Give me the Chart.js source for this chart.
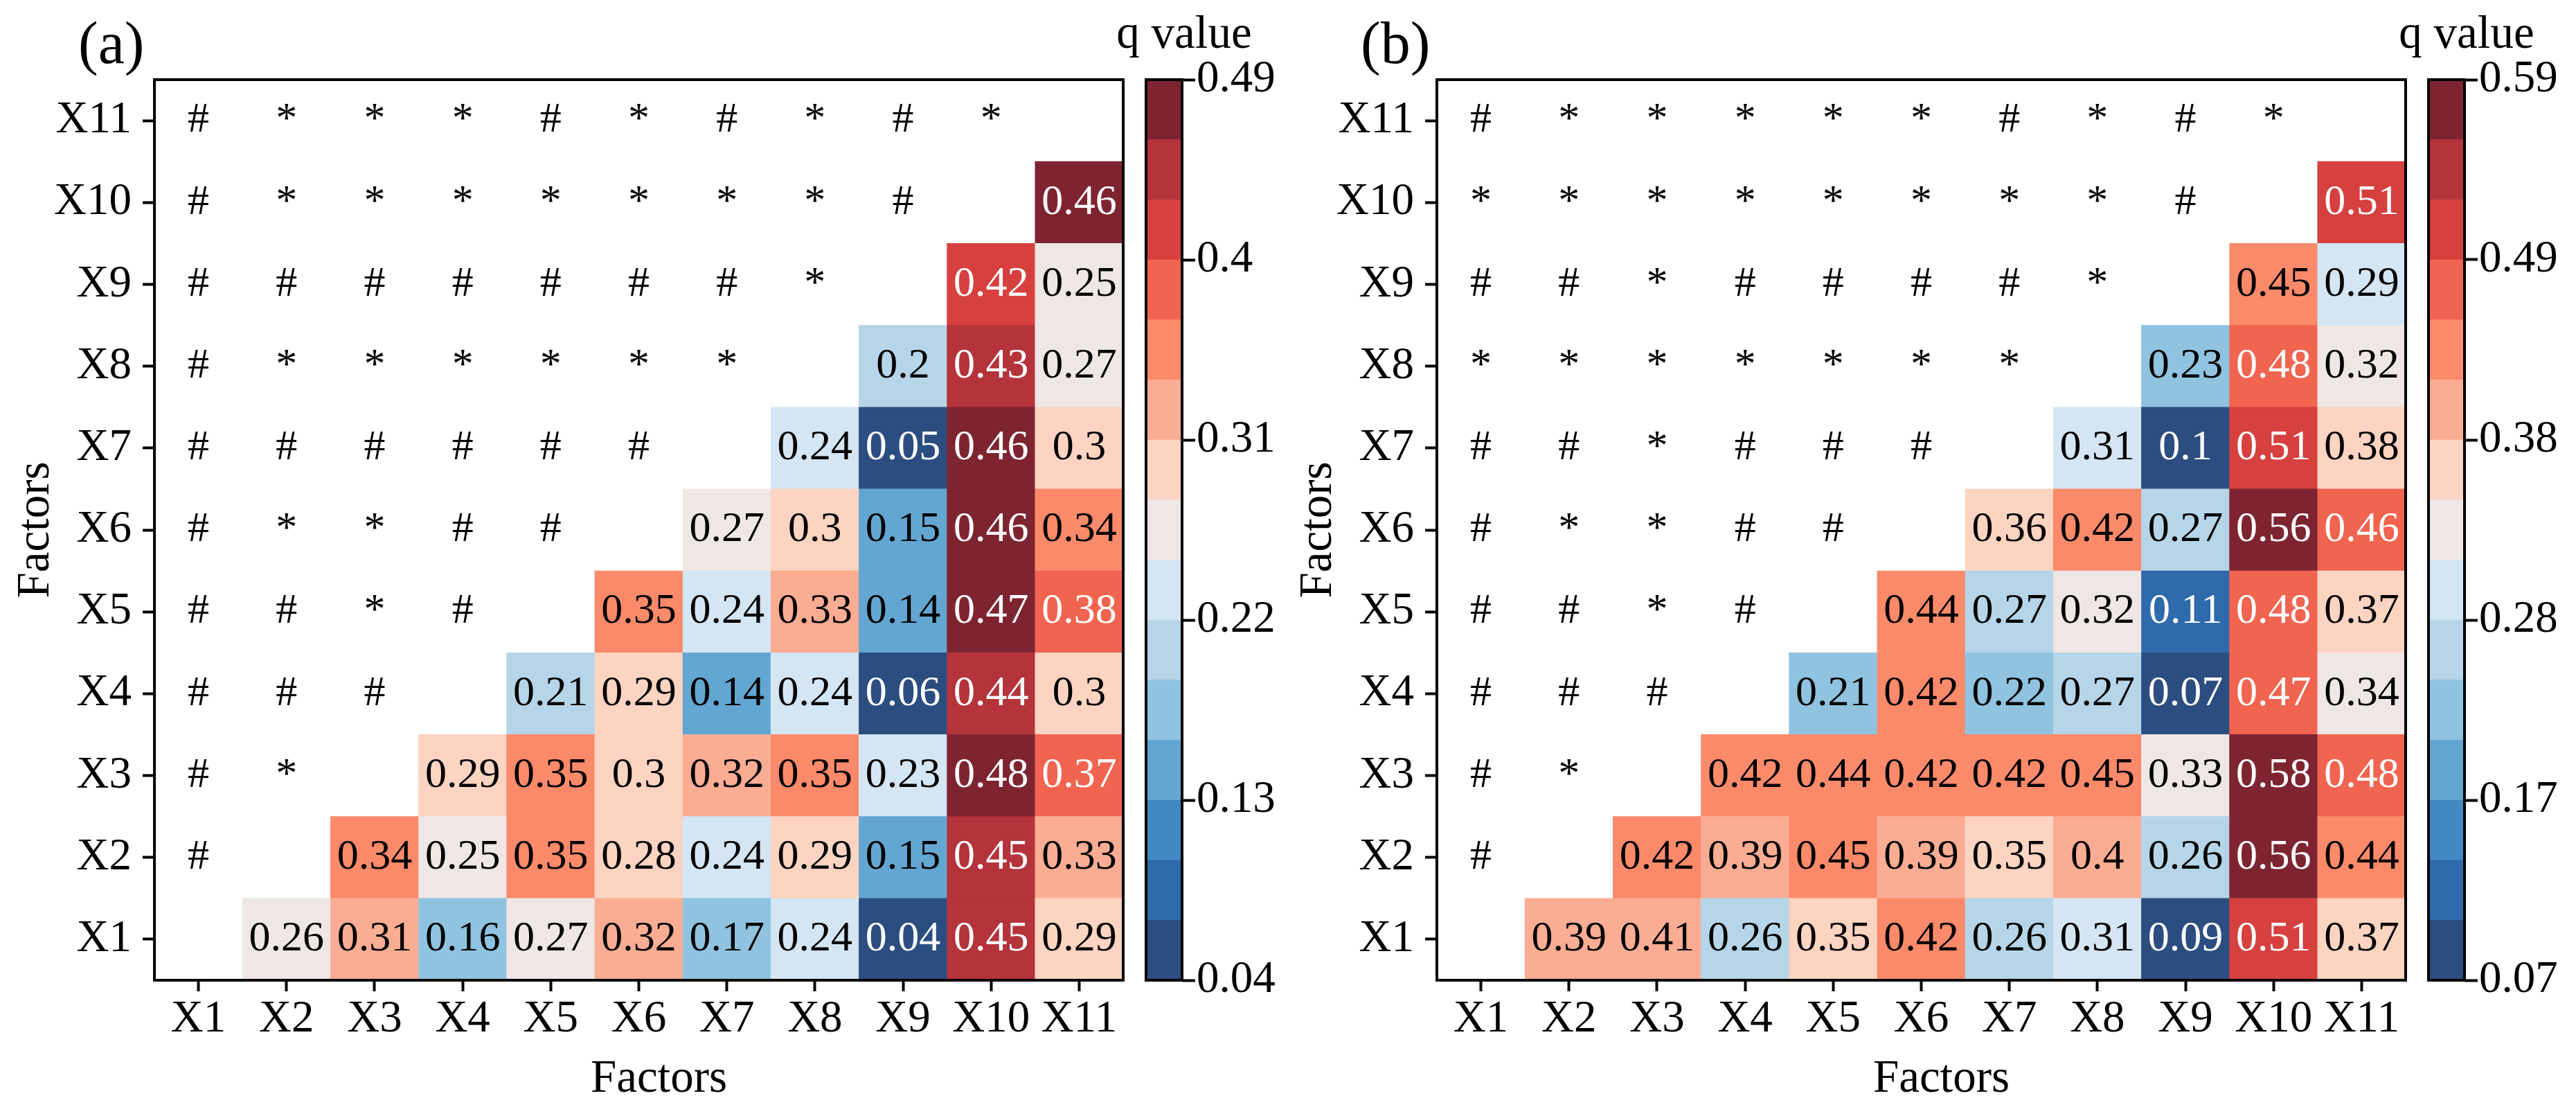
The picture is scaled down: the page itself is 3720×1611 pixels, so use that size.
<!DOCTYPE html>
<html><head><meta charset="utf-8">
<script src="https://cdn.jsdelivr.net/npm/chart.js@4.4.1/dist/chart.umd.min.js"></script>
<style>
html,body{margin:0;padding:0;background:#fff;}
#wrap{position:relative;width:3720px;height:1611px;background:#fff;overflow:hidden;}
.box{position:absolute;top:0;height:1611px;}
</style></head><body>
<div id="wrap">
  <div class="box" style="left:0;width:1650px"><canvas id="hmA"></canvas></div>
  <div class="box" style="left:1560px;width:300px"><canvas id="cbA"></canvas></div>
  <div class="box" style="left:1852px;width:1650px"><canvas id="hmB"></canvas></div>
  <div class="box" style="left:3412px;width:308px"><canvas id="cbB"></canvas></div>
</div>
<script>
// ---------------- DATA ----------------
const factors = ['X1','X2','X3','X4','X5','X6','X7','X8','X9','X10','X11'];

// Panel (a): q values, row Xr lists columns X(r+1)..X11
const valuesA = [
  [0.26,0.31,0.16,0.27,0.32,0.17,0.24,0.04,0.45,0.29],
  [0.34,0.25,0.35,0.28,0.24,0.29,0.15,0.45,0.33],
  [0.29,0.35,0.3,0.32,0.35,0.23,0.48,0.37],
  [0.21,0.29,0.14,0.24,0.06,0.44,0.3],
  [0.35,0.24,0.33,0.14,0.47,0.38],
  [0.27,0.3,0.15,0.46,0.34],
  [0.24,0.05,0.46,0.3],
  [0.2,0.43,0.27],
  [0.42,0.25],
  [0.46],
  []
];
// Panel (a): interaction type symbols, row Xr lists columns X1..X(r-1)
const symbolsA = [
  [],
  ['#'],
  ['#','*'],
  ['#','#','#'],
  ['#','#','*','#'],
  ['#','*','*','#','#'],
  ['#','#','#','#','#','#'],
  ['#','*','*','*','*','*','*'],
  ['#','#','#','#','#','#','#','*'],
  ['#','*','*','*','*','*','*','*','#'],
  ['#','*','*','*','#','*','#','*','#','*']
];
const rangeA = [0.04, 0.49];
const cbTicksA = ['0.04','0.13','0.22','0.31','0.4','0.49'];

// Panel (b)
const valuesB = [
  [0.39,0.41,0.26,0.35,0.42,0.26,0.31,0.09,0.51,0.37],
  [0.42,0.39,0.45,0.39,0.35,0.4,0.26,0.56,0.44],
  [0.42,0.44,0.42,0.42,0.45,0.33,0.58,0.48],
  [0.21,0.42,0.22,0.27,0.07,0.47,0.34],
  [0.44,0.27,0.32,0.11,0.48,0.37],
  [0.36,0.42,0.27,0.56,0.46],
  [0.31,0.1,0.51,0.38],
  [0.23,0.48,0.32],
  [0.45,0.29],
  [0.51],
  []
];
const symbolsB = [
  [],
  ['#'],
  ['#','*'],
  ['#','#','#'],
  ['#','#','*','#'],
  ['#','*','*','#','#'],
  ['#','#','*','#','#','#'],
  ['*','*','*','*','*','*','*'],
  ['#','#','*','#','#','#','#','*'],
  ['*','*','*','*','*','*','*','*','#'],
  ['#','*','*','*','*','*','#','*','#','*']
];
const rangeB = [0.07, 0.59];
const cbTicksB = ['0.07','0.17','0.28','0.38','0.49','0.59'];

// ---------------- STYLE ----------------
const palette = ['#2c4d80','#2f6aad','#4289c4','#64a6d2','#8fc3e0','#b6d5e8','#d4e5f3',
                 '#efe7e5','#fdd4c2','#fbad94','#fb8a6b','#f06450','#d6403f','#b5333b','#7e2431'];
const FAM = '"Liberation Serif", "Times New Roman", serif';
const TICK = 65, CELL = 62, TITLE = 67;
Chart.defaults.font.family = FAM;
Chart.defaults.color = '#000';

function binIndex(v, range){
  const lo = range[0], hi = range[1];
  return Math.max(0, Math.min(14, Math.floor((v - lo) / (hi - lo) * 15 + 1e-9)));
}

const cellText = {
  id: 'cellText',
  afterDatasetsDraw(chart, args, o){
    if (!o || !o.values) return;
    const {ctx} = chart; const x = chart.scales.x, y = chart.scales.y;
    ctx.save();
    ctx.textAlign = 'center'; ctx.textBaseline = 'middle';
    ctx.font = CELL + 'px ' + FAM;
    o.values.forEach((rowVals, r) => {
      rowVals.forEach((v, i) => {
        const c = r + 1 + i;
        const k = binIndex(v, o.range);
        ctx.fillStyle = (k >= 11 || k <= 1) ? '#ffffff' : '#000000';
        ctx.fillText(String(v), x.getPixelForValue(c), y.getPixelForValue(r + 1));
      });
    });
    ctx.fillStyle = '#000';
    o.symbols.forEach((row, r) => {
      row.forEach((s, c) => {
        ctx.fillText(s, x.getPixelForValue(c), y.getPixelForValue(r + 1));
      });
    });
    ctx.restore();
  }
};

const frame = {
  id: 'frame',
  afterDraw(chart, args, o){
    const {ctx, chartArea: a} = chart;
    ctx.save();
    ctx.strokeStyle = '#000'; ctx.lineWidth = o.width || 4;
    ctx.strokeRect(a.left, a.top, a.right - a.left, a.bottom - a.top);
    ctx.fillStyle = '#000';
    if (o.label) {
      ctx.font = '86px ' + FAM;
      ctx.textAlign = 'left'; ctx.textBaseline = 'alphabetic';
      ctx.fillText(o.label, 113, 91);
    }
    if (o.xTitle) {
      ctx.font = TITLE + 'px ' + FAM;
      ctx.textAlign = 'center'; ctx.textBaseline = 'alphabetic';
      ctx.fillText(o.xTitle, (a.left + a.right) / 2 + 29, 1576);
    }
    if (o.title) {
      ctx.font = TITLE + 'px ' + FAM;
      ctx.textAlign = 'center'; ctx.textBaseline = 'alphabetic';
      ctx.fillText(o.title, a.right + 3, 69);
    }
    ctx.restore();
  }
};

function heatmap(id, values, symbols, range, label){
  const datasets = [];
  values.forEach((rowVals, r) => {
    if (!rowVals.length) return;
    datasets.push({
      data: factors.map((f, c) => c > r ? [r + 0.5, r + 1.5] : null),
      backgroundColor: factors.map((f, c) => c > r ? palette[binIndex(rowVals[c - r - 1], range)] : 'rgba(0,0,0,0)'),
      borderWidth: 0, grouped: false, barPercentage: 1, categoryPercentage: 1
    });
  });
  new Chart(document.getElementById(id), {
    type: 'bar',
    data: {labels: factors, datasets},
    plugins: [cellText, frame],
    options: {
      responsive: true, maintainAspectRatio: false, animation: false, devicePixelRatio: 1,
      layout: {padding: {top: 115, right: 28, bottom: 0, left: 0}},
      plugins: {
        legend: {display: false}, tooltip: {enabled: false},
        cellText: {values, symbols, range},
        frame: {width: 4, label, xTitle: 'Factors'}
      },
      scales: {
        x: {
          type: 'category', offset: true,
          grid: {offset: false, drawOnChartArea: false, drawTicks: true, tickLength: 16, tickWidth: 4, tickColor: '#000'},
          border: {display: false},
          ticks: {font: {size: TICK}, color: '#000', padding: 2, maxRotation: 0, autoSkip: false},
          title: {display: false},
          afterFit(s){ s.height = 196; }
        },
        y: {
          type: 'linear', min: 0.5, max: 11.5,
          afterBuildTicks(s){ s.ticks = factors.map((f, i) => ({value: i + 1})); },
          ticks: {callback: (v) => factors[Math.round(v) - 1], font: {size: TICK}, color: '#000', padding: 16, autoSkip: false},
          grid: {drawOnChartArea: false, drawTicks: true, tickLength: 17, tickWidth: 4, tickColor: '#000'},
          border: {display: false},
          title: {display: true, text: 'Factors', font: {size: TITLE}, color: '#000', padding: {top: 12, bottom: 0}},
          afterFit(s){ s.width = 223; }
        }
      }
    }
  });
}

function colorbar(id, range, tickLabels){
  const lo = range[0], hi = range[1], step = (hi - lo) / 15;
  const datasets = palette.map((col, k) => ({
    data: [[lo + k * step, lo + (k + 1) * step]],
    backgroundColor: col, borderWidth: 0, grouped: false, barPercentage: 1, categoryPercentage: 1
  }));
  new Chart(document.getElementById(id), {
    type: 'bar',
    data: {labels: ['q'], datasets},
    plugins: [frame],
    options: {
      responsive: true, maintainAspectRatio: false, animation: false, devicePixelRatio: 1,
      layout: {padding: {top: 115, right: 0, bottom: 196, left: 95}},
      plugins: {legend: {display: false}, tooltip: {enabled: false}, frame: {width: 4, title: 'q value'}},
      scales: {
        x: {type: 'category', display: false, offset: true},
        y: {
          type: 'linear', position: 'right', min: lo, max: hi,
          afterBuildTicks(s){ s.ticks = tickLabels.map((t, i) => ({value: lo + (hi - lo) * i / (tickLabels.length - 1)})); },
          ticks: {callback: (v, i) => tickLabels[i], font: {size: TICK}, color: '#000', padding: 2, autoSkip: false},
          grid: {drawOnChartArea: false, drawTicks: true, tickLength: 19, tickWidth: 4, tickColor: '#000'},
          border: {display: false},
          afterFit(s){ s.width = s.chart.width - 95 - 52; }
        }
      }
    }
  });
}

heatmap('hmA', valuesA, symbolsA, rangeA, '(a)');
colorbar('cbA', rangeA, cbTicksA);
heatmap('hmB', valuesB, symbolsB, rangeB, '(b)');
colorbar('cbB', rangeB, cbTicksB);
</script>
</body></html>
